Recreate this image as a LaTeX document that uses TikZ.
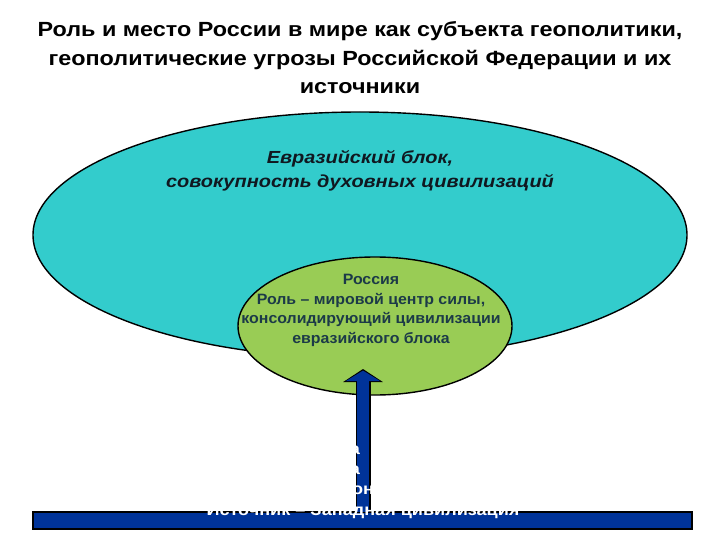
\documentclass[tikz,border=0pt]{standalone}
\usepackage{fontspec}
\setmainfont{Liberation Sans}
\usetikzlibrary{shapes.geometric,arrows.meta}
\definecolor{eurcyan}{HTML}{33CCCC}
\definecolor{rusgreen}{HTML}{99CC55}
\definecolor{barblue}{HTML}{003399}
\definecolor{rustext}{HTML}{1C3A48}
\definecolor{eurtext}{HTML}{101820}
\tikzset{
  oval/.style={ellipse, draw=black, line width=1.4pt, inner sep=0pt},
  title/.style={align=center, xscale=1.14, font=\fontsize{20.5}{28.5}\selectfont\bfseries},
  whitetxt/.style={text=white, xscale=1.13, font=\fontsize{16}{20.7}\selectfont\bfseries, align=center, inner sep=0pt},
  fatouter/.style={-{Triangle[width=39pt,length=13pt]}, line width=15pt, draw=black},
  fatinner/.style={-{Triangle[width=34pt,length=10.5pt]}, line width=12pt, draw=barblue, shorten >=1.6pt}
}
\begin{document}
\begin{tikzpicture}[x=1pt,y=-1pt]
\useasboundingbox[fill=white] (0,0) rectangle (720,540);
\node[title] (ttl) at (360,58) {Роль и место России в мире как субъекта геополитики,\\геополитические угрозы Российской Федерации и их\\источники};
\node[oval, fill=eurcyan, minimum width=654pt, minimum height=246pt] (eur) at (360,235) {};
\node[align=center, xscale=1.14, text=eurtext, font=\fontsize{17.5}{23.5}\selectfont\bfseries\itshape] (eurt) at (360,171) {Евразийский блок,\\совокупность духовных цивилизаций};
\node[oval, fill=rusgreen, minimum width=274pt, minimum height=138pt] (rus) at (375,326) {};
\node[align=center, xscale=1.06, text=rustext, font=\fontsize{15}{19.7}\selectfont\bfseries] (rust) at (371,310.5) {Россия\\Роль – мировой центр силы,\\консолидирующий цивилизации\\евразийского блока};
\node[draw=black, line width=1.4pt, fill=barblue, minimum width=659pt, minimum height=17pt, inner sep=0pt] (bar) at (362.5,520.5) {};
\coordinate (tail) at (bar.north -| 363,0);
\coordinate (tip) at (363,369);
\draw[fatouter] (tail) -- (tip);
\draw[fatinner] ([yshift=-0.7pt]tail) -- (tip);
\node[whitetxt] (f1) at (355,450) {а};
\node[whitetxt] (f2) at (355,470) {а};
\node[whitetxt] (f3) at (363,490) {он};
\node[whitetxt] (src) at (363,512) {Источник – Западная цивилизация};
\end{tikzpicture}
\end{document}
